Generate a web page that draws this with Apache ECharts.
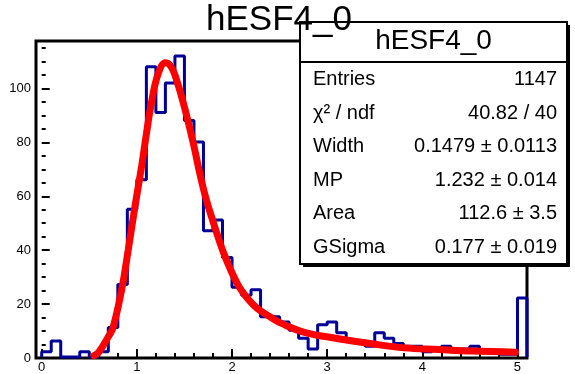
<!DOCTYPE html>
<html>
<head>
<meta charset="utf-8">
<script src="https://cdn.jsdelivr.net/npm/echarts@6/dist/echarts.min.js"></script>
<style>
html, body { margin: 0; padding: 0; background: #fff; }
#main { width: 575px; height: 374px; }
</style>
</head>
<body>
<div id="main"></div>
<script>
// histogram hESF4_0 : bins of 0.1 from 0 to 5.1
var binLow = 0;
var binWidth = 0.1;
var counts = [2, 6, 0, 0, 2, 0, 2, 11, 27, 55,
    66, 108, 91, 102, 112, 88, 80, 47, 51, 37,
    26, 23, 25, 15, 15, 13, 10, 7, 3, 12,
    13, 9, 6, 6, 4, 9, 7, 5, 4, 4,
    2, 3, 4, 2, 3, 4, 2, 2, 1, 1,
    22];

// fitted langaus curve
var fitX = [0.55, 0.60, 0.70, 0.75, 0.84, 0.91, 0.98, 1.05, 1.10, 1.15, 1.22, 1.30, 1.35, 1.40, 1.50, 1.59,
    1.67, 1.73, 1.80, 1.92, 2.06, 2.17, 2.27, 2.42, 2.52, 2.76, 3.12, 3.47, 3.81, 4.17, 4.52, 4.98];
var fitY = [0.5, 1.8, 7.5, 11, 25, 40, 56, 71, 83, 94, 105, 109.5, 108.5, 105, 93, 80,
    67, 58.5, 50.5, 38, 27, 21.5, 18, 14.5, 12.5, 9.2, 6.8, 4.9, 3.4, 2.8, 2.2, 1.8];

// stats box
var statTitle = 'hESF4_0';
var statNames = ['Entries', 'χ² / ndf', 'Width', 'MP', 'Area', 'GSigma'];
var statValues = ['1147', '40.82 / 40', '0.1479 ± 0.0113', '1.232 ± 0.014', '112.6 ± 3.5', '0.177 ± 0.019'];

var FONT = '"Liberation Sans", Arial, Helvetica, sans-serif';

var chart = echarts.init(document.getElementById('main'), null, {renderer: 'canvas'});

// step outline of the histogram
var histPoints = [[binLow, 0]];
for (var i = 0; i < counts.length; i++) {
    histPoints.push([+(binLow + i * binWidth).toFixed(2), counts[i]]);
}
var binHigh = +(binLow + counts.length * binWidth).toFixed(2);
histPoints.push([binHigh, counts[counts.length - 1]]);
histPoints.push([binHigh, 0]);

var fitPoints = fitX.map(function (x, i) {
    return [x, fitY[i]];
});

var intLabel = function (v) {
    return Math.abs(v - Math.round(v)) < 1e-6 ? String(Math.round(v)) : '';
};

// stats pave
var graphics = [
    {type: 'rect', z: 50, shape: {x: 303, y: 25, width: 267, height: 242}, style: {fill: '#000'}},
    {type: 'rect', z: 51, shape: {x: 300, y: 22, width: 267, height: 242}, style: {fill: '#fff', stroke: '#000', lineWidth: 2}},
    {type: 'line', z: 52, shape: {x1: 300, y1: 62, x2: 567, y2: 62}, style: {stroke: '#000', lineWidth: 2}},
    {type: 'text', z: 53, x: 433.5, y: 41, style: {text: statTitle, fontSize: 28, fontFamily: FONT, fill: '#000', align: 'center', verticalAlign: 'middle'}}
];
statNames.forEach(function (name, k) {
    var y = 79.5 + k * 33.5;
    graphics.push({type: 'text', z: 53, x: 313, y: y, style: {text: name, fontSize: 20, fontFamily: FONT, fill: '#000', align: 'left', verticalAlign: 'middle'}});
    graphics.push({type: 'text', z: 53, x: 557, y: y, style: {text: statValues[k], fontSize: 20, fontFamily: FONT, fill: '#000', align: 'right', verticalAlign: 'middle'}});
});

var option = {
    backgroundColor: '#fff',
    animation: false,
    title: {
        text: 'hESF4_0',
        left: 206,
        top: 3,
        padding: 0,
        z: 60,
        textStyle: {fontSize: 35, fontWeight: 'normal', fontFamily: FONT, color: '#000'}
    },
    grid: [
        // frame
        {left: 36, right: 48, top: 41, bottom: 16, show: true, borderColor: '#000', borderWidth: 3, backgroundColor: 'rgba(0,0,0,0)'},
        // data area, x = 0 sits a little right of the frame
        {left: 41.7, right: 48, top: 41, bottom: 16}
    ],
    xAxis: [{
        gridIndex: 0, type: 'value', min: -0.06, max: 5.1, show: false
    }, {
        gridIndex: 1,
        type: 'value',
        min: 0,
        max: 5.1,
        interval: 1,
        axisLine: {show: false},
        axisTick: {show: true, inside: true, length: 8, lineStyle: {color: '#000', width: 2}},
        minorTick: {show: true, splitNumber: 5, length: 4, lineStyle: {color: '#000', width: 2}},
        splitLine: {show: false},
        axisLabel: {margin: 4, fontSize: 13, color: '#000', fontFamily: FONT, formatter: intLabel}
    }],
    yAxis: [{
        gridIndex: 0,
        type: 'value',
        min: 0,
        max: 117.6,
        interval: 20,
        axisLine: {show: false},
        axisTick: {show: true, inside: true, length: 8, lineStyle: {color: '#000', width: 2}},
        minorTick: {show: true, splitNumber: 4, length: 4, lineStyle: {color: '#000', width: 2}},
        splitLine: {show: false},
        axisLabel: {margin: 5, fontSize: 13, color: '#000', fontFamily: FONT, formatter: intLabel}
    }, {
        gridIndex: 1, type: 'value', min: 0, max: 117.6, show: false
    }],
    series: [{
        name: 'hESF4_0',
        type: 'line',
        xAxisIndex: 1,
        yAxisIndex: 1,
        step: 'end',
        data: histPoints,
        symbol: 'none',
        clip: false,
        lineStyle: {color: '#000099', width: 3},
        z: 3
    }, {
        name: 'fit',
        type: 'line',
        xAxisIndex: 1,
        yAxisIndex: 1,
        data: fitPoints,
        smooth: 0.4,
        symbol: 'none',
        clip: false,
        lineStyle: {color: '#ff0000', width: 7, cap: 'round'},
        z: 4
    }],
    graphic: graphics
};
chart.setOption(option);
</script>
</body>
</html>
